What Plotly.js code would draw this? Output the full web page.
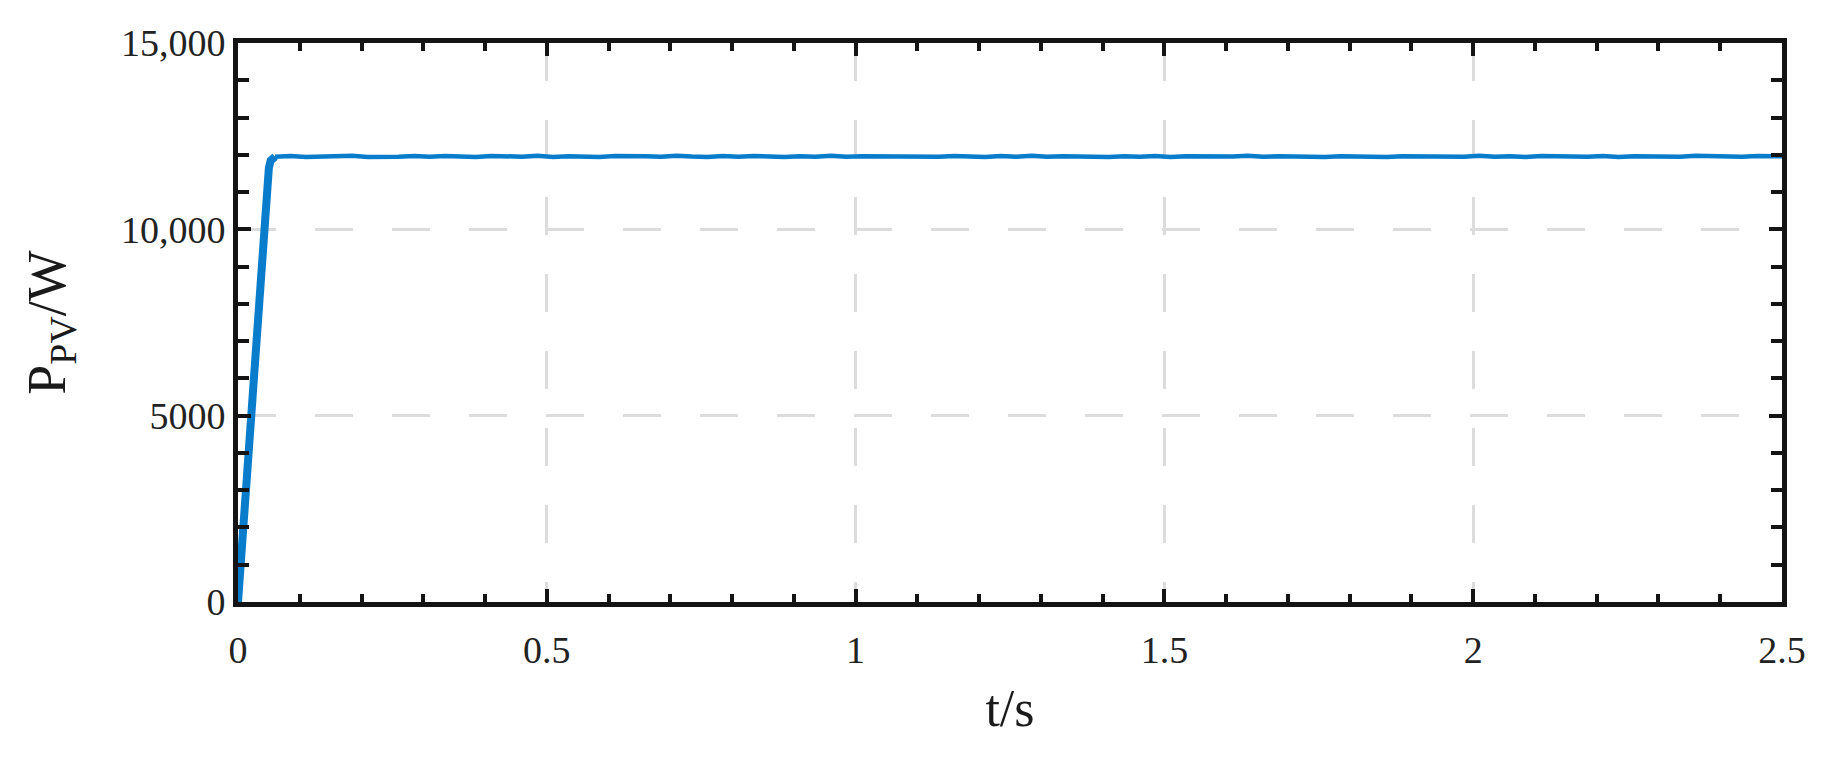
<!DOCTYPE html>
<html>
<head>
<meta charset="utf-8">
<script src="https://cdn.plot.ly/plotly-3.0.1.min.js"></script>
<style>
  html, body { margin: 0; padding: 0; background: #fff; }
  #pv-graph-container { width: 1838px; height: 773px; }
</style>
</head>
<body>
<div id="pv-graph-container"></div>
<script>
//  ###################### DATA ######################

// start-up ramp of the PV power
const rampTime = [0, 0.005, 0.01, 0.015, 0.02, 0.03, 0.04, 0.046, 0.05, 0.053, 0.056, 0.06];
const rampPower = [0, 1200, 2450, 3700, 4950, 7350, 9750, 11150, 11650, 11850, 11930, 11950];

// steady state (MPPT holding ~12 kW with small ripple)
const steadyTime = [
    0.06, 0.085, 0.11, 0.135, 0.16, 0.185, 0.21, 0.235, 0.26, 0.285,
    0.31, 0.335, 0.36, 0.385, 0.41, 0.435, 0.46, 0.485, 0.51, 0.535,
    0.56, 0.585, 0.61, 0.635, 0.66, 0.685, 0.71, 0.735, 0.76, 0.785,
    0.81, 0.835, 0.86, 0.885, 0.91, 0.935, 0.96, 0.985, 1.01, 1.035,
    1.06, 1.085, 1.11, 1.135, 1.16, 1.185, 1.21, 1.235, 1.26, 1.285,
    1.31, 1.335, 1.36, 1.385, 1.41, 1.435, 1.46, 1.485, 1.51, 1.535,
    1.56, 1.585, 1.61, 1.635, 1.66, 1.685, 1.71, 1.735, 1.76, 1.785,
    1.81, 1.835, 1.86, 1.885, 1.91, 1.935, 1.96, 1.985, 2.01, 2.035,
    2.06, 2.085, 2.11, 2.135, 2.16, 2.185, 2.21, 2.235, 2.26, 2.285,
    2.31, 2.335, 2.36, 2.385, 2.41, 2.435, 2.46, 2.485, 2.5
];
const steadyPower = [
    11948, 11970, 11943, 11963, 11955, 11973, 11940, 11960, 11950, 11968,
    11945, 11965, 11953, 11938, 11970, 11958, 11948, 11973, 11943, 11963,
    11955, 11940, 11968, 11950, 11960, 11945, 11975, 11953, 11943, 11965,
    11948, 11970, 11958, 11940, 11963, 11950, 11973, 11945, 11960, 11953,
    11968, 11943, 11958, 11948, 11970, 11955, 11940, 11965, 11950, 11973,
    11945, 11960, 11953, 11968, 11943, 11963, 11950, 11970, 11940, 11958,
    11948, 11965, 11955, 11973, 11945, 11960, 11950, 11968, 11943, 11963,
    11953, 11970, 11940, 11958, 11948, 11965, 11955, 11945, 11973, 11950,
    11960, 11943, 11968, 11953, 11963, 11948, 11970, 11940, 11958, 11950,
    11965, 11945, 11973, 11955, 11960, 11948, 11968, 11953, 11958
];

// tick labels
const xTickVals = [0, 0.5, 1, 1.5, 2, 2.5];
const xTickText = ["0", "0.5", "1", "1.5", "2", "2.5"];
const yTickVals = [0, 5000, 10000, 15000];
const yTickText = ["0", "5000", "10,000", "15,000"];

//  ###################### GRAPH ######################

function drawPVGraph(){

    const lineColor = "#0a7ccc";

    const pvPlotData = [
        { x: steadyTime, y: steadyPower, mode: "lines", name: "steady", line: { color: lineColor, width: 4.5 } },
        { x: rampTime, y: rampPower, mode: "lines", name: "ramp", line: { color: lineColor, width: 8 } },
    ];

    const axisCommon = {
        showline: true,
        linewidth: 5,
        linecolor: "#141414",
        mirror: "allticks",
        ticks: "inside",
        ticklen: 13,
        tickwidth: 4,
        tickcolor: "#141414",
        showgrid: true,
        gridcolor: "#dcdcdc",
        gridwidth: 3,
        griddash: "38px,39px",
        zeroline: false,
        tickfont: { family: "Liberation Serif", size: 38, color: "#222" },
    };

    const pvPlotLayout = {
        width: 1838,
        height: 773,
        paper_bgcolor: "#ffffff",
        plot_bgcolor: "#ffffff",
        font: { family: "Liberation Serif", color: "#222" },
        margin: { t: 43, b: 171, l: 238, r: 56 },
        showlegend: false,
        xaxis: Object.assign({}, axisCommon, {
            range: [0, 2.5],
            tickmode: "array",
            tickvals: xTickVals,
            ticktext: xTickText,
            ticklabelstandoff: 10,
            minor: { dtick: 0.1, ticks: "inside", ticklen: 8, tickwidth: 4, tickcolor: "#141414", showgrid: false },
            title: { text: "t/s", standoff: 22, font: { family: "Liberation Serif", size: 52, color: "#1a1a1a" } },
        }),
        yaxis: Object.assign({}, axisCommon, {
            range: [0, 15000],
            tickmode: "array",
            tickvals: yTickVals,
            ticktext: yTickText,
            minor: { dtick: 1000, ticks: "inside", ticklen: 11, tickwidth: 4, tickcolor: "#141414", showgrid: false },
            title: { text: "P<sub>PV</sub>/W", standoff: 40, font: { family: "Liberation Serif", size: 54, color: "#1a1a1a" } },
        }),
    };

    const pvPlotConfig = {
        staticPlot: true,
    };

    Plotly.newPlot("pv-graph-container", pvPlotData, pvPlotLayout, pvPlotConfig);
}

drawPVGraph();
</script>
</body>
</html>
